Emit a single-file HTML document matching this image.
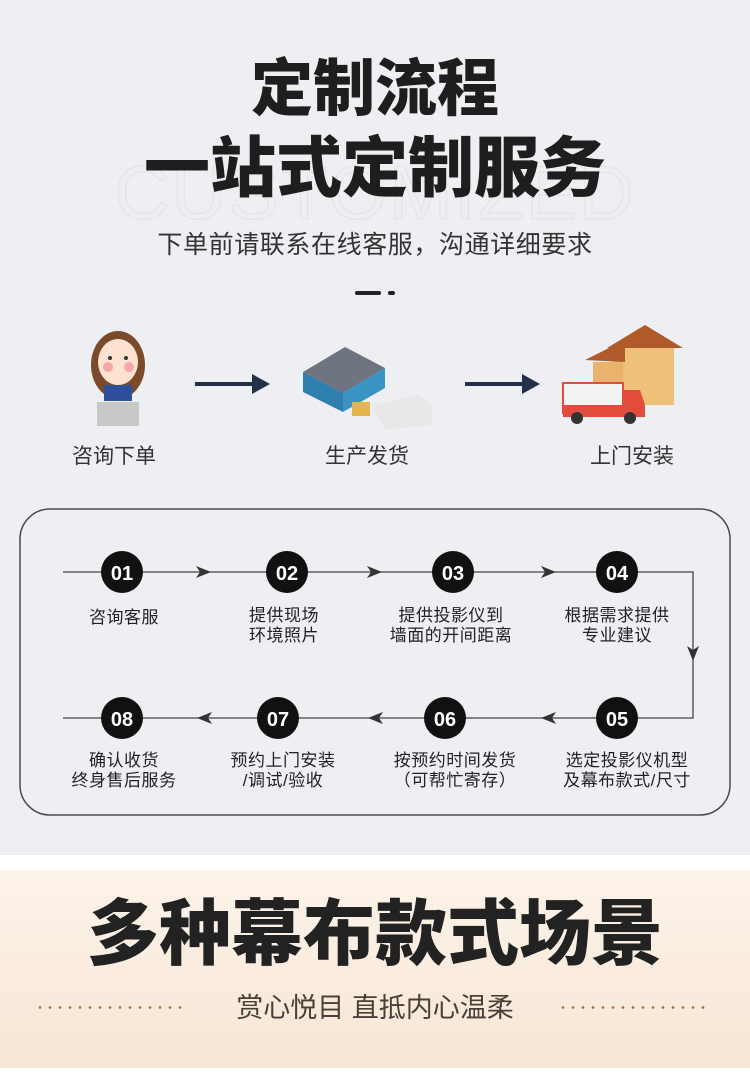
<!DOCTYPE html>
<html><head><meta charset="utf-8"><style>
*{margin:0;padding:0;box-sizing:border-box}
body{width:750px;height:1077px;position:relative;overflow:hidden;background:#fff;font-family:"Liberation Sans","Noto Sans CJK SC",sans-serif;color:#222}
.top{position:absolute;left:0;top:0;width:750px;height:855px;background:#eeeff3}
.beige{position:absolute;left:0;top:870px;width:750px;height:198px;background:linear-gradient(#fcf3ea,#f7e6d4)}
.t{position:absolute;left:0;width:750px;text-align:center;white-space:nowrap}
</style></head><body>
<div class="top"></div>
<div class="beige"></div>
<div class="t" style="top:150px;font-size:76px;font-weight:300;color:transparent;-webkit-text-stroke:1px #e2e2e6;letter-spacing:2px;font-family:'Liberation Sans',sans-serif">CUSTOMIZED</div>
<div class="t" style="top:52px;font-size:62px;font-weight:900;line-height:76px;color:#1e1e1e">定制流程</div>
<div class="t" style="top:128px;font-size:66px;font-weight:900;line-height:80px;color:#1e1e1e">一站式定制服务</div>
<div class="t" style="top:228px;font-size:25px;line-height:34px;color:#333;letter-spacing:0.6px">下单前请联系在线客服，沟通详细要求</div>
<div style="position:absolute;left:355px;top:291px;width:26px;height:4px;background:#222;border-radius:2px"></div>
<div style="position:absolute;left:388px;top:291px;width:7px;height:4px;background:#222;border-radius:2px"></div>

<svg style="position:absolute;left:0;top:0" width="750" height="855">
 <ellipse cx="118" cy="365" rx="27" ry="34" fill="#7a4a2a"/>
 <ellipse cx="118" cy="362" rx="20" ry="23" fill="#fde3cf"/>
 <path d="M96 352 Q118 325 140 352 L140 345 Q118 322 96 345Z" fill="#7a4a2a"/>
 <circle cx="108" cy="367" r="5" fill="#f6a8a8"/><circle cx="129" cy="367" r="5" fill="#f6a8a8"/>
 <circle cx="110" cy="358" r="2" fill="#333"/><circle cx="126" cy="358" r="2" fill="#333"/>
 <rect x="104" y="385" width="28" height="16" fill="#2e4f9a"/>
 <rect x="97" y="402" width="42" height="24" fill="#c8c8c8"/>
 <line x1="195" y1="384" x2="262" y2="384" stroke="#27304a" stroke-width="4"/>
 <path d="M252 374 L270 384 L252 394 Z" fill="#27304a"/>
 <line x1="465" y1="384" x2="532" y2="384" stroke="#27304a" stroke-width="4"/>
 <path d="M522 374 L540 384 L522 394 Z" fill="#27304a"/>
 <path d="M303 372 L345 347 L385 368 L343 393Z" fill="#6f7580"/>
 <path d="M303 372 L343 393 L343 412 L303 392Z" fill="#2f7fae"/>
 <path d="M343 393 L385 368 L385 388 L343 412Z" fill="#3b93c4"/>
 <path d="M372 405 L418 395 L432 405 L432 425 L385 430Z" fill="#e8e8e8"/>
 <rect x="352" y="402" width="18" height="14" fill="#e3b54a"/>
 <rect x="612" y="345" width="62" height="60" fill="#efc07a"/>
 <path d="M607 348 L645 325 L683 348Z" fill="#b05a2a"/>
 <path d="M585 360 L625 340 L625 362Z" fill="#b05a2a"/>
 <rect x="593" y="362" width="30" height="38" fill="#e9b36e"/>
 <rect x="563" y="383" width="60" height="30" fill="#f3f3f3" stroke="#e24c3c" stroke-width="2"/>
 <rect x="563" y="405" width="82" height="12" fill="#e24c3c"/>
 <path d="M623 390 L640 390 L645 405 L623 405Z" fill="#e24c3c"/>
 <circle cx="577" cy="418" r="6" fill="#333"/><circle cx="630" cy="418" r="6" fill="#333"/>
</svg>
<div class="t" style="left:-261px;top:440px;font-size:21px;color:#333">咨询下单</div>
<div class="t" style="left:-8px;top:440px;font-size:21px;color:#333">生产发货</div>
<div class="t" style="left:257px;top:440px;font-size:21px;color:#333">上门安装</div>

<svg style="position:absolute;left:0;top:0" width="750" height="855" font-family="Liberation Sans,Noto Sans CJK SC,sans-serif">
 <rect x="20" y="509" width="710" height="306" rx="30" fill="none" stroke="#4a4a4a" stroke-width="1.5"/>
 <path d="M63 572 H693 V718 H63" fill="none" stroke="#444" stroke-width="1.3"/>
 <g fill="#333">
  <path d="M196 566 L211 572 L196 578 L200 572Z"/>
  <path d="M367 566 L382 572 L367 578 L371 572Z"/>
  <path d="M541 566 L556 572 L541 578 L545 572Z"/>
  <path d="M687 646 L693 661 L699 646 L693 650Z"/>
  <path d="M556 712 L541 718 L556 724 L552 718Z"/>
  <path d="M383 712 L368 718 L383 724 L379 718Z"/>
  <path d="M212 712 L197 718 L212 724 L208 718Z"/>
 </g>
 <g fill="#111">
  <circle cx="122" cy="572" r="21"/><circle cx="287" cy="572" r="21"/><circle cx="453" cy="572" r="21"/><circle cx="617" cy="572" r="21"/>
  <circle cx="122" cy="718" r="21"/><circle cx="278" cy="718" r="21"/><circle cx="445" cy="718" r="21"/><circle cx="617" cy="718" r="21"/>
 </g>
 <g fill="#fff" font-size="20" font-weight="bold" text-anchor="middle">
  <text x="122" y="580">01</text><text x="287" y="580">02</text><text x="453" y="580">03</text><text x="617" y="580">04</text>
  <text x="122" y="726">08</text><text x="278" y="726">07</text><text x="445" y="726">06</text><text x="617" y="726">05</text>
 </g>
 <g fill="#222" font-size="17" text-anchor="middle" letter-spacing="0.5">
  <text x="124" y="623">咨询客服</text>
  <text x="284" y="621">提供现场</text><text x="284" y="641">环境照片</text>
  <text x="451" y="621">提供投影仪到</text><text x="451" y="641">墙面的开间距离</text>
  <text x="617" y="621">根据需求提供</text><text x="617" y="641">专业建议</text>
  <text x="124" y="766">确认收货</text><text x="124" y="786">终身售后服务</text>
  <text x="283" y="766">预约上门安装</text><text x="283" y="786">/调试/验收</text>
  <text x="455" y="766">按预约时间发货</text><text x="455" y="786">（可帮忙寄存）</text>
  <text x="627" y="766">选定投影仪机型</text><text x="627" y="786">及幕布款式/尺寸</text>
 </g>
</svg>

<div class="t" style="top:890px;font-size:72px;font-weight:900;line-height:90px;color:#222">多种幕布款式场景</div>
<div class="t" style="top:989px;font-size:27px;line-height:38px;color:#4a3f38">赏心悦目 直抵内心温柔</div>
<div style="position:absolute;left:35px;top:1006px;width:152px;height:3px;background:radial-gradient(circle,#a0734a 1.2px,transparent 1.5px) 0 0/10px 3px repeat-x"></div>
<div style="position:absolute;left:558px;top:1006px;width:152px;height:3px;background:radial-gradient(circle,#a0734a 1.2px,transparent 1.5px) 0 0/10px 3px repeat-x"></div>
</body></html>
